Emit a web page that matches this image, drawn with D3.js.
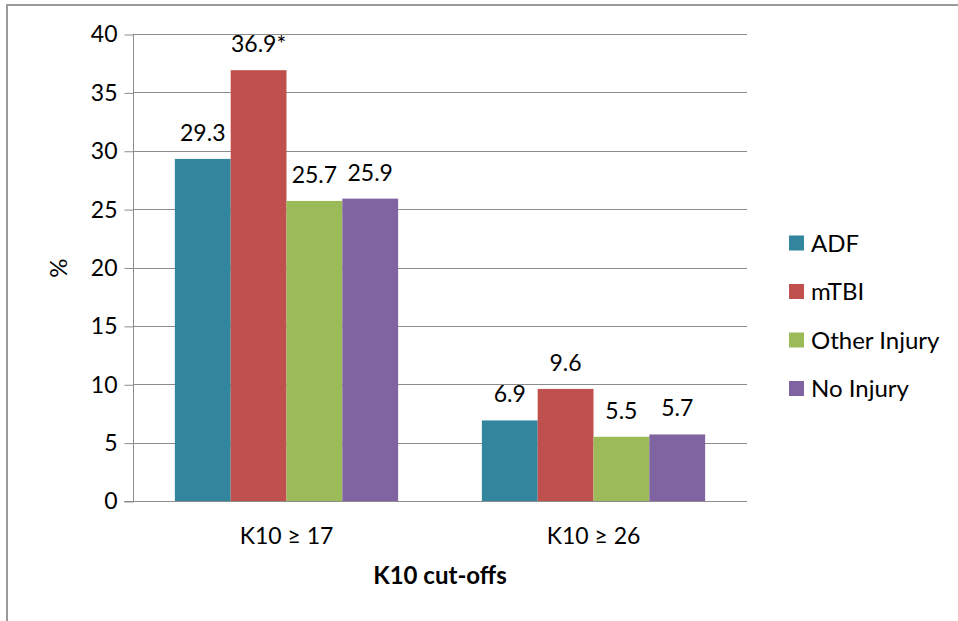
<!DOCTYPE html>
<html>
<head>
<meta charset="utf-8">
<script src="https://cdn.jsdelivr.net/npm/d3@7"></script>
<style>
  html, body { margin: 0; padding: 0; background: #fff; }
  svg { display: block; }
  text { font-family: Lato, "Open Sans", sans-serif; fill: #000; }
</style>
</head>
<body>
<svg id="chart" width="958" height="621"></svg>
<script>
// K10 psychological distress: percentage above each cut-off, by group
const categories = ["K10 \u2265 17", "K10 \u2265 26"];
const seriesNames = ["ADF", "mTBI", "Other Injury", "No Injury"];
const seriesColors = ["#31859C", "#C0504D", "#9BBB59", "#8064A2"];
const values = [
  [29.3, 36.9, 25.7, 25.9],
  [6.9, 9.6, 5.5, 5.7]
];
const labelSuffix = [
  ["", "*", "", ""],
  ["", "", "", ""]
];
const yTicks = [0, 5, 10, 15, 20, 25, 30, 35, 40];

const svg = d3.select("#chart");
const W = 958, H = 621;
const plot = { left: 133, right: 747, top: 34, bottom: 501 };
const FS = 23;     // ticks and value labels
const FS_L = 24;   // legend and titles

// outer frame
svg.append("path")
  .attr("d", `M7,${H} V5 H${W}`)
  .attr("fill", "none")
  .attr("stroke", "#9a9a9a")
  .attr("stroke-width", 2);

const y = d3.scaleLinear().domain([0, 40]).range([plot.bottom, plot.top]);
const x0 = d3.scaleBand().domain(categories).range([plot.left, plot.right]).padding(0);
const x1 = d3.scaleBand().domain(seriesNames).range([0, x0.bandwidth()])
  .paddingInner(0).paddingOuter(0.75);

// gridlines
svg.append("g")
  .selectAll("line")
  .data(yTicks.filter(d => d > 0))
  .join("line")
  .attr("x1", plot.left).attr("x2", plot.right)
  .attr("y1", d => Math.round(y(d)) + 0.5).attr("y2", d => Math.round(y(d)) + 0.5)
  .attr("stroke", "#8c8c8c").attr("stroke-width", 1);

// y axis
const yAxis = svg.append("g")
  .attr("transform", `translate(${plot.left + 0.5},0.5)`)
  .call(d3.axisLeft(y).tickValues(yTicks).tickSize(9).tickPadding(7));
yAxis.select(".domain").attr("stroke", "#8c8c8c").attr("d", `M0,${plot.top}V${plot.bottom}`);
yAxis.selectAll(".tick line").attr("stroke", "#8c8c8c");
yAxis.selectAll(".tick text")
  .style("font-family", "Lato, sans-serif").attr("font-size", FS).attr("fill", "#000");
yAxis.attr("font-size", null);

// x axis baseline
svg.append("line")
  .attr("x1", plot.left - 9).attr("x2", plot.right)
  .attr("y1", Math.round(y(0)) + 0.5).attr("y2", Math.round(y(0)) + 0.5)
  .attr("stroke", "#8c8c8c");

// bars
const groups = svg.append("g")
  .selectAll("g")
  .data(categories)
  .join("g")
  .attr("transform", c => `translate(${x0(c)},0)`);

groups.selectAll("rect")
  .data((c, ci) => values[ci].map((v, si) => ({ v, si, ci })))
  .join("rect")
  .attr("x", d => x1(seriesNames[d.si]))
  .attr("width", x1.bandwidth())
  .attr("y", d => y(d.v))
  .attr("height", d => y(0) - y(d.v))
  .attr("fill", d => seriesColors[d.si]);

groups.selectAll("text.val")
  .data((c, ci) => values[ci].map((v, si) => ({ v, si, ci })))
  .join("text")
  .attr("class", "val")
  .attr("x", d => x1(seriesNames[d.si]) + x1.bandwidth() / 2)
  .attr("y", d => y(d.v) - 18)
  .attr("text-anchor", "middle")
  .attr("font-size", FS)
  .text(d => d3.format(".1f")(d.v) + labelSuffix[d.ci][d.si]);

// category labels
svg.append("g")
  .selectAll("text")
  .data(categories)
  .join("text")
  .attr("x", c => x0(c) + x0.bandwidth() / 2)
  .attr("y", 544)
  .attr("text-anchor", "middle")
  .attr("font-size", FS)
  .text(c => c);

// axis titles
svg.append("text")
  .attr("x", (plot.left + plot.right) / 2)
  .attr("y", 584)
  .attr("text-anchor", "middle")
  .attr("font-size", FS_L)
  .attr("font-weight", "bold")
  .text("K10 cut-offs");

svg.append("text")
  .attr("transform", "translate(67,268) rotate(-90)")
  .attr("text-anchor", "middle")
  .attr("font-size", FS_L)
  .text("%");

// legend
const legend = svg.append("g")
  .selectAll("g")
  .data(seriesNames)
  .join("g")
  .attr("transform", (d, i) => `translate(789,${243 + i * 48.5})`);
legend.append("rect")
  .attr("x", 0).attr("y", -7.5).attr("width", 15).attr("height", 15)
  .attr("fill", (d, i) => seriesColors[i]);
legend.append("text")
  .attr("x", 22).attr("y", 0).attr("dy", "0.36em")
  .attr("font-size", FS_L)
  .text(d => d);
</script>
</body>
</html>
